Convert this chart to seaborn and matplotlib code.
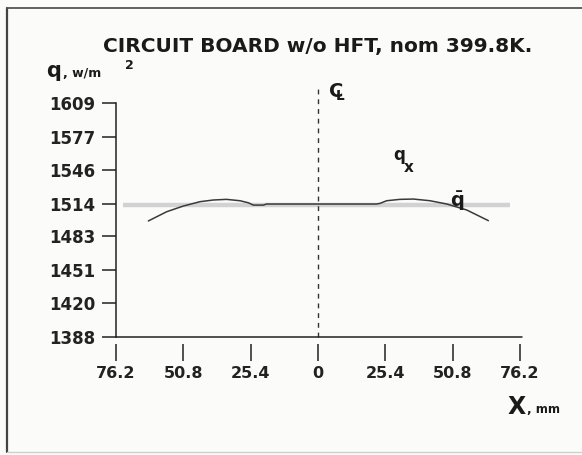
import matplotlib
matplotlib.use('Agg')
import matplotlib.pyplot as plt
from matplotlib.lines import Line2D
import pandas as pd
import seaborn as sns

# distance from the board centreline, mm (negative = left half)
x_mm = [-64.0, -57.1, -50.8, -44.5, -39.5, -34.5, -29.4, -26.3, -24.4, -20.6,
        -19.4, -10.0, 0.0, 10.0, 22.1, 23.4, 25.9, 30.9, 36.0, 42.3, 48.6,
        56.1, 64.3]
# local heat flux q_x, W/m^2
q_x = [1497.6, 1506.3, 1511.7, 1515.8, 1517.4, 1518.0, 1516.7, 1514.8, 1512.6,
       1512.6, 1513.6, 1513.6, 1513.6, 1513.6, 1513.6, 1514.2, 1516.7, 1518.0,
       1518.3, 1516.7, 1513.6, 1508.0, 1497.9]

# mean heat flux q-bar and the span it is drawn over
q_mean = 1512.8
q_mean_span = [-73.5, 72.5]

x_ticks = [-76.2, -50.8, -25.4, 0.0, 25.4, 50.8, 76.2]
x_ticklabels = ['76.2', '50.8', '25.4', '0', '25.4', '50.8', '76.2']
y_ticks = [1388, 1420, 1451, 1483, 1514, 1546, 1577, 1609]

title = 'CIRCUIT BOARD w/o HFT, nom 399.8K.'

sns.set_style('ticks')
plt.rcParams['font.family'] = ['DejaVu Sans']

fig = plt.figure(figsize=(5.82, 4.55), dpi=100, facecolor='#fbfbfa')
ax = fig.add_axes([0.1993, 0.2593, 0.6977, 0.5143])
ax.set_facecolor('none')

df = pd.DataFrame({'x': x_mm, 'q': q_x})
ax.plot(q_mean_span, [q_mean, q_mean], color='#d2d2d2', lw=3.2, solid_capstyle='butt', zorder=1)
sns.lineplot(data=df, x='x', y='q', ax=ax, color='#3a3a3a', lw=1.1, zorder=3)

# centreline, runs above the plot top
ax.axvline(0, ymin=0, ymax=1.075, color='#333333', lw=1.0, ls=(0, (3.5, 3.5)), clip_on=False)

ax.set_xlim(-76.2, 77.0)
ax.set_ylim(1388, 1609)
ax.set_xticks(x_ticks)
ax.set_xticklabels(x_ticklabels)
ax.set_yticks(y_ticks)
ax.set_xlabel('')
ax.set_ylabel('')

for side in ['top', 'right']:
    ax.spines[side].set_visible(False)
ax.spines['left'].set_linewidth(1.1)
ax.spines['left'].set_color('#222222')
# x ticks hang below the axis with a small gap
ax.spines['bottom'].set_position(('outward', 5))
ax.spines['bottom'].set_visible(False)
ax.axhline(1388, color='#222222', lw=1.1, clip_on=False)

ax.tick_params(axis='y', direction='out', length=10, width=1.1, pad=5, colors='#222222')
ax.tick_params(axis='x', direction='out', length=12, width=1.1, pad=4, colors='#222222')
for lab in ax.get_yticklabels():
    lab.set_fontweight('bold')
    lab.set_fontsize(12)
for lab in ax.get_xticklabels():
    lab.set_fontweight('bold')
    lab.set_fontsize(11.5)

fig.text(0.546, 0.897, title, ha='center', va='center', fontsize=14.5,
         fontweight='bold', color='#1a1a1a')

# axis captions
fig.text(0.080, 0.843, 'q', fontsize=15, fontweight='bold', color='#1a1a1a', va='center')
fig.text(0.108, 0.838, ', w/m', fontsize=9, fontweight='bold', color='#1a1a1a', va='center')
fig.text(0.215, 0.855, '2', fontsize=9, fontweight='bold', color='#1a1a1a', va='center')
fig.text(0.872, 0.105, 'X', fontsize=17, fontweight='bold', color='#1a1a1a', va='center')
fig.text(0.905, 0.100, ', mm', fontsize=8.5, fontweight='bold', color='#1a1a1a', va='center')

# curve labels
ax.text(28.5, 1560, 'q', fontsize=12, fontweight='bold', color='#1a1a1a', va='center')
ax.text(32.5, 1548, 'x', fontsize=11, fontweight='bold', color='#1a1a1a', va='center')
ax.text(50.0, 1516, r'$\mathbf{\bar{q}}$', fontsize=14, color='#1a1a1a', va='center')

# centreline symbol (C with an overlapping L)
ax.text(3.8, 1619, r'$\mathbf{C}_{\!\!\!\mathbf{L}}$', fontsize=14, color='#1a1a1a',
        va='center', clip_on=False)

# page frame from the scan
fig.add_artist(Line2D([0.012, 0.012], [0.006, 0.982], color='#444444', lw=1.6))
fig.add_artist(Line2D([0.012, 1.0], [0.982, 0.982], color='#555555', lw=1.3))
fig.add_artist(Line2D([0.012, 1.0], [0.007, 0.007], color='#cfcfcf', lw=1.0))

fig.savefig('out.png', dpi=100, facecolor=fig.get_facecolor())
